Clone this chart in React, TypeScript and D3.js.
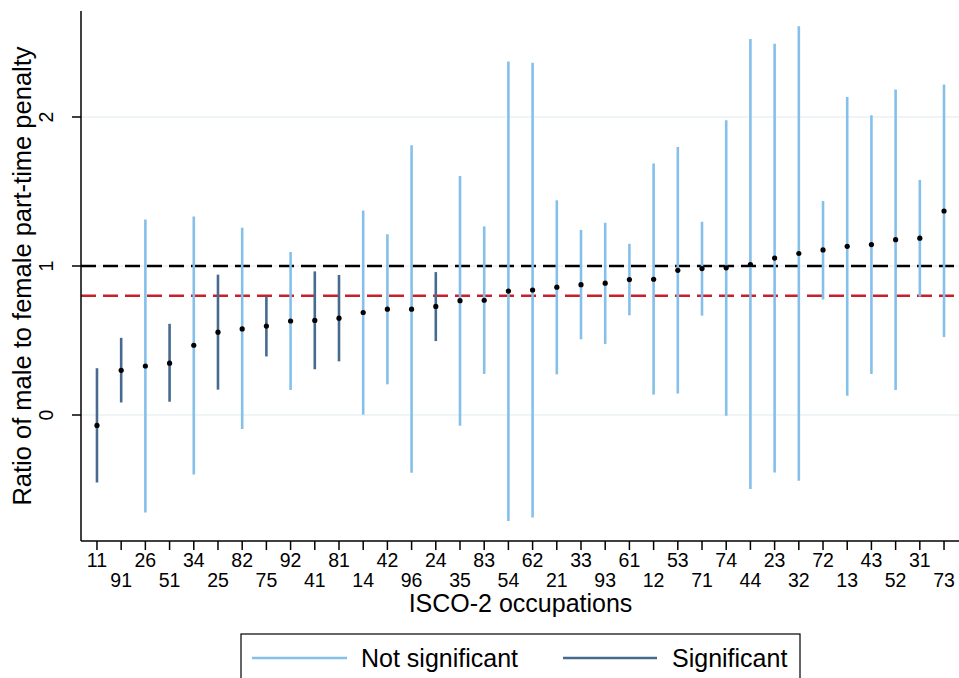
import React from "react";
import * as d3 from "d3";

const categories = ["11","91","26","51","34","25","82","75","92","41","81","14","42","96","24","35","83","54","62","21","33","93","61","12","53","71","74","44","23","32","72","13","43","52","31","73"];
const estimates = [-0.07,0.30,0.329,0.348,0.468,0.556,0.578,0.597,0.631,0.635,0.65,0.688,0.71,0.71,0.729,0.767,0.77,0.832,0.839,0.858,0.875,0.885,0.909,0.911,0.971,0.983,0.988,1.01,1.053,1.084,1.108,1.132,1.144,1.177,1.187,1.369];
const upper = [0.314,0.518,1.312,0.612,1.333,0.942,1.257,0.796,1.094,0.964,0.94,1.372,1.213,1.81,0.959,1.604,1.266,2.372,2.364,1.441,1.242,1.29,1.149,1.688,1.799,1.297,1.978,2.523,2.492,2.609,1.436,2.134,2.012,2.185,1.578,2.218];
const lower = [-0.453,0.084,-0.655,0.089,-0.40,0.17,-0.094,0.393,0.168,0.307,0.36,0.002,0.206,-0.388,0.496,-0.072,0.276,-0.712,-0.688,0.273,0.508,0.477,0.669,0.137,0.144,0.667,-0.005,-0.496,-0.386,-0.441,0.775,0.129,0.276,0.168,0.794,0.523];
const significant = [1,1,0,1,0,1,0,1,0,1,1,0,0,0,1,0,0,0,0,0,0,0,0,0,0,0,0,0,0,0,0,0,0,0,0,0,0];
const yTicks = [0, 1, 2];
const refLines = [1, 0.8];
const legendLabels = ["Not significant", "Significant"];

const LIGHT = "#85c0ea";
const DARK = "#476b8f";
const FONT = "'Liberation Sans', Arial, Helvetica, sans-serif";

export default function App() {
  const W = 959, H = 678;
  const left = 81, right = 960, top = 11, bottom = 541;
  const y = d3.scaleLinear().domain([0, 2]).range([415, 117]);
  const x = d3.scalePoint<string>().domain(categories).range([left, right]).padding(0.66);
  const line = d3.line<[number, number]>();
  return (
    <svg width={W} height={H} style={{ position: "absolute", left: 0, top: 0, background: "#fff" }}>
      <rect x={0} y={0} width={W} height={H} fill="#fff" />
      {yTicks.map((t) => (
        <line key={"g" + t} x1={left} x2={right} y1={y(t)} y2={y(t)} stroke="#eaf1f4" strokeWidth={1.6} />
      ))}
      {refLines.map((r, i) => (
        <path key={"r" + r} d={line([[left, y(r)], [right, y(r)]]) || ""} stroke={i === 0 ? "#000" : "#c8202a"} strokeWidth={2.6} strokeDasharray="15 7" fill="none" />
      ))}
      {categories.map((c, i) => (
        <line key={"e" + c} x1={x(c)} x2={x(c)} y1={y(lower[i])} y2={y(upper[i])} stroke={significant[i] ? DARK : LIGHT} strokeWidth={2.6} />
      ))}
      {categories.map((c, i) => (
        <circle key={"p" + c} cx={x(c)} cy={y(estimates[i])} r={2.6} fill="#000" />
      ))}
      <line x1={left} x2={left} y1={top} y2={bottom} stroke="#000" strokeWidth={1.5} />
      <line x1={left} x2={right} y1={bottom} y2={bottom} stroke="#000" strokeWidth={1.5} />
      {yTicks.map((t) => (
        <g key={"yt" + t}>
          <line x1={left - 9} x2={left} y1={y(t)} y2={y(t)} stroke="#000" strokeWidth={1.5} />
          <text transform={`translate(53,${y(t)}) rotate(-90)`} textAnchor="middle" fontFamily={FONT} fontSize={19.5} fill="#000">{t}</text>
        </g>
      ))}
      {categories.map((c, i) => (
        <g key={"xt" + c}>
          <line x1={x(c)} x2={x(c)} y1={bottom} y2={bottom + 9} stroke="#000" strokeWidth={1.5} />
          <text x={x(c)} y={i % 2 === 0 ? 567 : 587} textAnchor="middle" fontFamily={FONT} fontSize={19.5} fill="#000">{c}</text>
        </g>
      ))}
      <text x={(left + right) / 2} y={612} textAnchor="middle" fontFamily={FONT} fontSize={25} fill="#000">ISCO-2 occupations</text>
      <text transform={`translate(31,${(top + bottom) / 2}) rotate(-90)`} textAnchor="middle" fontFamily={FONT} fontSize={25.5} fill="#000">Ratio of male to female part-time penalty</text>
      <rect x={241} y={634} width={559} height={60} fill="#fff" stroke="#000" strokeWidth={1.2} />
      <line x1={252} x2={347} y1={658} y2={658} stroke={LIGHT} strokeWidth={2.6} />
      <text x={361} y={667} fontFamily={FONT} fontSize={25} fill="#000">{legendLabels[0]}</text>
      <line x1={563} x2={657} y1={658} y2={658} stroke={DARK} strokeWidth={2.6} />
      <text x={672} y={667} fontFamily={FONT} fontSize={25} fill="#000">{legendLabels[1]}</text>
    </svg>
  );
}
